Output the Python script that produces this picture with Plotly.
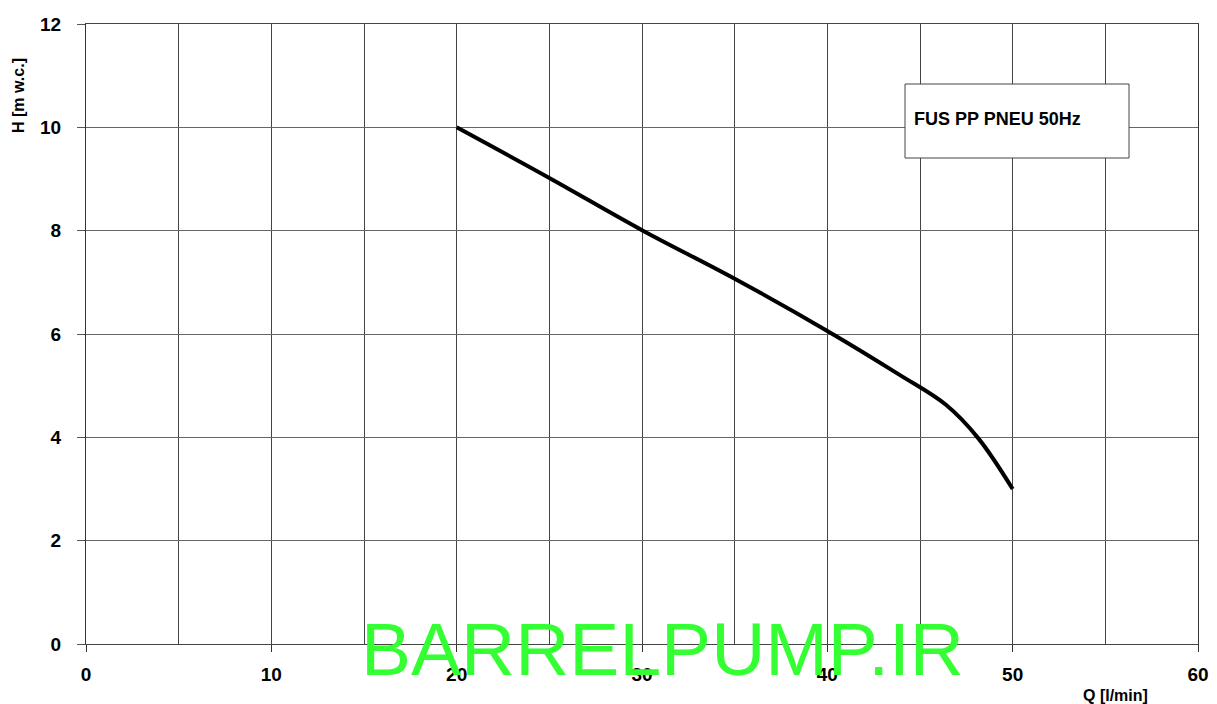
import plotly.graph_objects as go

q_values = [20, 25, 30, 35, 40, 43.9, 46.4, 48.15, 50]
h_values = [10, 9.02, 8.01, 7.07, 6.06, 5.21, 4.63, 3.98, 3.0]
series_name = "FUS PP PNEU 50Hz"
x_tick_vals = [0, 10, 20, 30, 40, 50, 60]
y_tick_vals = [0, 2, 4, 6, 8, 10, 12]
x_title = "Q [l/min]"
y_title = "H [m w.c.]"
watermark = "BARRELPUMP.IR"

fig = go.Figure()
fig.add_trace(go.Scatter(x=q_values, y=h_values, mode="lines",
                         line=dict(color="black", width=4, shape="spline", smoothing=1.0),
                         name=series_name, showlegend=False, hoverinfo="skip"))

tick_font = dict(family="Liberation Sans, Arial", size=19, color="black", weight="bold")

fig.update_layout(
    width=1217, height=704,
    margin=dict(l=86, r=19, t=24, b=60),
    paper_bgcolor="white", plot_bgcolor="white",
    xaxis=dict(range=[0, 60], tickvals=x_tick_vals, ticks="outside", ticklen=7,
               tickcolor="#333", tickfont=tick_font, ticklabelstandoff=6, automargin=False,
               showgrid=True, gridcolor="#444", gridwidth=1,
               minor=dict(dtick=5, showgrid=True, gridcolor="#444", ticks=""),
               showline=True, linecolor="#444", linewidth=1, mirror=True, zeroline=False),
    yaxis=dict(range=[0, 12], tickvals=y_tick_vals, ticks="outside", ticklen=8,
               tickcolor="#555", tickfont=tick_font, ticklabelstandoff=12, automargin=False,
               showgrid=True, gridcolor="#666", gridwidth=1,
               showline=True, linecolor="#333", linewidth=1, mirror=True, zeroline=False),
)

# legend-style box
fig.add_shape(type="rect", xref="paper", yref="paper",
              x0=(905 - 86) / 1112, x1=(1129 - 86) / 1112,
              y0=(644 - 158) / 620, y1=(644 - 84) / 620,
              line=dict(color="#444", width=1), fillcolor="white", layer="above")
fig.add_annotation(text=series_name, xref="paper", yref="paper",
                   x=(912 - 86) / 1112, y=(644 - 119) / 620, xanchor="left", yanchor="middle",
                   showarrow=False,
                   font=dict(family="Liberation Sans, Arial", size=18, color="black", weight="bold"))

# axis titles
fig.add_annotation(text=y_title, xref="paper", yref="paper",
                   x=(19 - 86) / 1112, y=(644 - 96) / 620, textangle=-90,
                   xanchor="center", yanchor="middle", showarrow=False,
                   font=dict(family="Liberation Sans, Arial", size=16, color="black", weight="bold"))
fig.add_annotation(text=x_title, xref="paper", yref="paper",
                   x=(1115 - 86) / 1112, y=(644 - 695) / 620,
                   xanchor="center", yanchor="middle", showarrow=False,
                   font=dict(family="Liberation Sans, Arial", size=16, color="black", weight="bold"))

# watermark
fig.add_annotation(text=watermark, xref="paper", yref="paper",
                   x=(662 - 86) / 1112, y=(644 - 649) / 620,
                   xanchor="center", yanchor="middle", showarrow=False,
                   font=dict(family="Liberation Sans, Arial", size=75, color="#33FF33"))

fig.write_html("out.html", config={"displayModeBar": False},
               post_script="document.body.style.margin='0';")
